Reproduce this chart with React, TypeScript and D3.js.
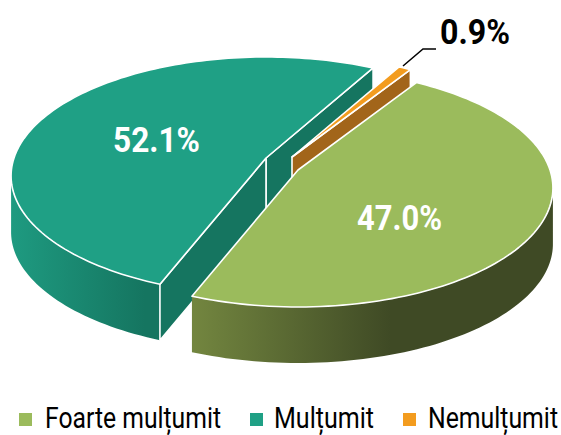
import React from "react";
import * as d3 from "d3";

const categories = ["Foarte mulțumit", "Mulțumit", "Nemulțumit"];
const shareValues = [47.0, 52.1, 0.9];
const valueLabels = ["47.0%", "52.1%", "0.9%"];
const topColors = ["#9BBB5C", "#1FA085", "#F39C1F"];

const W = 561, H = 435;
const FONT = "'Roboto','Open Sans',sans-serif";
// projection of a tilted disc (perspective)
const R = 252, A = 116.3, K = 0.151, DEPTH = 56, BOT = 1;
const apexes: [number, number][] = [[298, 170], [266, 158], [292, 157]];

function proj(apex: [number, number], theta: number, r: number, lower = false): [number, number] {
  const u = r * Math.sin(theta), v = -r * Math.cos(theta);
  const s = (1 / (1 - K * v)) * (lower ? BOT : 1);
  return [apex[0] + R * u * s, apex[1] + A * v * s + (lower ? DEPTH : 0)];
}
const line = d3.line();
const arcPts = (apex: [number, number], a0: number, a1: number, lower = false) => {
  const n = Math.max(4, Math.ceil(Math.abs(a1 - a0) * 40));
  return d3.range(n + 1).map((i) => proj(apex, a0 + ((a1 - a0) * i) / n, 1, lower));
};
const rad = (d: number) => (d * Math.PI) / 180;

const pie = d3.pie<number>().sort(null).value((d) => d).startAngle(rad(32)).endAngle(rad(392));
const arcs = pie(shareValues);

function topPath(i: number) {
  const a = arcs[i];
  return line([apexes[i], ...arcPts(apexes[i], a.startAngle, a.endAngle)])! + "Z";
}
function outerWall(i: number, a0: number, a1: number) {
  const ap = apexes[i];
  return line([...arcPts(ap, a0, a1), ...arcPts(ap, a1, a0, true)])! + "Z";
}
function radialWall(i: number, a: number) {
  const ap = apexes[i];
  const lowAp: [number, number] = [ap[0], ap[1] + DEPTH];
  return line([ap, proj(ap, a, 1), proj(ap, a, 1, true), lowAp])! + "Z";
}

const legendX = [19, 250, 403];
const legendTextX = [45, 274, 428];
const legendTextW = [176, 100, 130];
const LEG_SX = 0.86;

const stroke = { stroke: "#fff", strokeWidth: 1.6, strokeLinejoin: "round" as const };

export default function App() {
  const [g, t, o] = arcs;
  return (
    <svg width={W} height={H} style={{ position: "absolute", left: 0, top: 0, background: "#fff" }}>
      <defs>
        <linearGradient id="gw" gradientUnits="userSpaceOnUse" x1={195} x2={390} y1={0} y2={0}>
          <stop offset="0" stopColor="#72853F" />
          <stop offset="1" stopColor="#3F4A25" />
        </linearGradient>
        <linearGradient id="tw" gradientUnits="userSpaceOnUse" x1={12} x2={145} y1={0} y2={0}>
          <stop offset="0" stopColor="#1E9A80" />
          <stop offset="1" stopColor="#157560" />
        </linearGradient>
      </defs>

      {/* teal walls */}
      <path d={outerWall(1, t.startAngle, rad(262))} fill="url(#tw)" />
      <path d={radialWall(1, t.endAngle - 2 * Math.PI)} fill="#157560" {...stroke} />
      <path d={radialWall(1, t.startAngle)} fill="#157560" {...stroke} />
      {/* orange */}
      <path d={radialWall(2, o.endAngle - 2 * Math.PI)} fill="#A2651A" {...stroke} />
      <path d={topPath(1)} fill={topColors[1]} {...stroke} />
      <path d={topPath(2)} fill={topColors[2]} {...stroke} />
      {/* green */}
      <path d={outerWall(0, rad(98), g.endAngle)} fill="url(#gw)" />
      <path d={topPath(0)} fill={topColors[0]} {...stroke} />

      {/* leader */}
      <path d="M403,66L423,49L436,49" fill="none" stroke="#000" strokeWidth={1.5} />

      {/* value labels */}
      <text x={113} y={152} textLength={87} lengthAdjust="spacingAndGlyphs" fontFamily={FONT} fontWeight={700} fontSize={35} fill="#fff">{valueLabels[1]}</text>
      <text x={357} y={230} textLength={85} lengthAdjust="spacingAndGlyphs" fontFamily={FONT} fontWeight={700} fontSize={35} fill="#fff">{valueLabels[0]}</text>
      <text x={440} y={44} textLength={70} lengthAdjust="spacingAndGlyphs" fontFamily={FONT} fontWeight={700} fontSize={35} fill="#000">{valueLabels[2]}</text>

      {/* legend */}
      {categories.map((c, i) => (
        <g key={c}>
          <rect x={legendX[i]} y={413} width={13} height={13} fill={topColors[i]} />
          <g transform={`translate(${legendTextX[i]},428) scale(${LEG_SX},1)`}>
            <text x={0} y={0} textLength={legendTextW[i] / LEG_SX} lengthAdjust="spacingAndGlyphs" fontFamily={FONT} fontSize={29} fill="#000">{c}</text>
          </g>
        </g>
      ))}
    </svg>
  );
}
